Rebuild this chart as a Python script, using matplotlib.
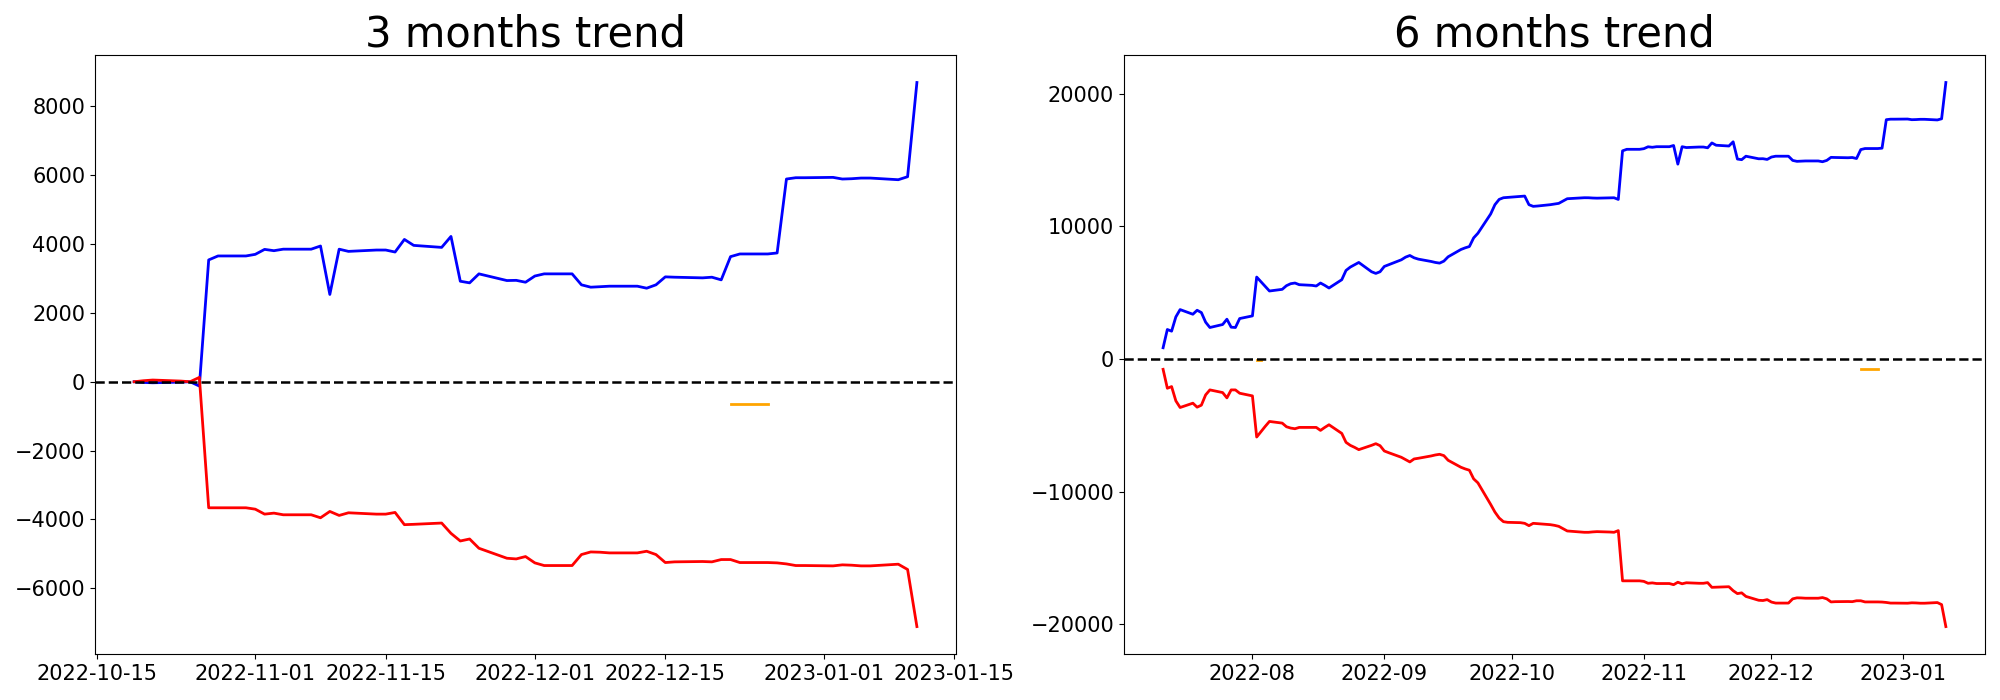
import numpy as np
import pandas as pd
import matplotlib
matplotlib.use("Agg")
import matplotlib.pyplot as plt

# business days shown in each panel
dates_3m = pd.bdate_range("2022-10-19", "2023-01-11")
dates_6m = pd.bdate_range("2022-07-11", "2023-01-11")

blue_3m = [0, -20, -30, -10, 0, -125, 3538, 3653, 3653,
           3700, 3844, 3806, 3850, 3850, 3942, 2535, 3850, 3786, 3825, 3825,
           3767, 4133, 3960, 3902, 4220, 2919, 2872, 3133, 2939, 2945, 2890,
           3070, 3133, 3133, 2815, 2746, 2760, 2775, 2775, 2717, 2815, 3046,
           3036, 3017, 3036, 2959, 3633, 3711, 3711, 3740, 5887, 5925, 5925,
           5935, 5887, 5896, 5915, 5915, 5867, 5954, 8690]
red_3m = [0, 30, 50, 20, 0, 127, -3660, -3660, -3660,
          -3700, -3844, -3815, -3863, -3863, -3950, -3766, -3882, -3805, -3844, -3844,
          -3795, -4150, -4140, -4103, -4402, -4624, -4566, -4835, -5125, -5145, -5076,
          -5260, -5337, -5337, -5018, -4942, -4950, -4970, -4970, -4922, -5018, -5250,
          -5230, -5220, -5230, -5163, -5163, -5250, -5250, -5260, -5290, -5337, -5337,
          -5347, -5317, -5327, -5347, -5347, -5298, -5452, -7110]
orange_3m_dates = ["2022-12-22", "2022-12-23", "2022-12-26"]
orange_3m = [-650, -650, -650]

blue_6m = [851, 2227, 2102, 3178, 3729, 3378, 3679, 3504, 2778, 2377, 2603, 3003, 2402, 2377, 3053,
           3253, 6181, 5831, 5480, 5130, 5255, 5531, 5681, 5731, 5606, 5556, 5506, 5731, 5556, 5355,
           5981, 6682, 6932, 7107, 7282, 6582, 6456, 6582,
           6982, 7107, 7482, 7683, 7808, 7633, 7533, 7357, 7282, 7232, 7382, 7708, 8258, 8383, 8483,
           9134, 9484, 10936, 11637, 12037, 12162, 12187,
           12262, 12287, 11637, 11512, 11537, 11637, 11687, 11737, 11912, 12087, 12137, 12162,
           12160, 12140, 12130, 12150, 12160, 12035, 15698, 15813, 15813,
           15860, 16004, 15966, 16010, 16010, 16102, 14695, 16010, 15946, 15985, 15985, 15927,
           16293, 16120, 16062, 16380, 15079, 15032, 15293, 15099, 15105, 15050,
           15230, 15293, 15293, 14975, 14906, 14920, 14935, 14935, 14877, 14975, 15206, 15196,
           15177, 15196, 15119, 15793, 15871, 15871, 15900, 18047, 18085, 18085,
           18095, 18047, 18056, 18075, 18075, 18027, 18114, 20850]
red_6m = [-776, -2202, -2077, -3153, -3654, -3328, -3629, -3478, -2703, -2327, -2528, -2928, -2327, -2327, -2578,
          -2778, -5881, -5480, -5080, -4705, -4830, -5105, -5205, -5255, -5155, -5155, -5155, -5380, -5155, -4955,
          -5606, -6281, -6507, -6657, -6832, -6507, -6381, -6532,
          -6932, -7057, -7407, -7583, -7758, -7533, -7482, -7307, -7232, -7182, -7282, -7633, -8158, -8283, -8383,
          -9034, -9334, -10961, -11537, -11987, -12262, -12312,
          -12337, -12387, -12563, -12387, -12412, -12487, -12538, -12613, -12788, -12963, -13038, -13063,
          -13063, -13033, -13013, -13043, -13063, -12936, -16723, -16723, -16723,
          -16763, -16907, -16878, -16926, -16926, -17013, -16829, -16945, -16868, -16907, -16907,
          -16858, -17213, -17203, -17166, -17465, -17687, -17629, -17898, -18188, -18208, -18139,
          -18323, -18400, -18400, -18081, -18005, -18013, -18033, -18033, -17985, -18081, -18313,
          -18293, -18283, -18293, -18226, -18226, -18313, -18313, -18323, -18353, -18400, -18400,
          -18410, -18380, -18390, -18410, -18410, -18361, -18515, -20173]
orange_6m_a_dates = ["2022-08-02", "2022-08-03"]
orange_6m_a = [-50, -50]
orange_6m_b_dates = ["2022-12-22", "2022-12-23", "2022-12-26"]
orange_6m_b = [-750, -750, -750]

fig, (ax1, ax2) = plt.subplots(1, 2, figsize=(20, 7), dpi=100)
plt.subplots_adjust(left=0.0475, right=0.9925, top=0.921, bottom=0.066, wspace=0.195)

# 3 months
ax1.plot(dates_3m, blue_3m, color="blue", lw=2)
ax1.plot(dates_3m, red_3m, color="red", lw=2)
ax1.plot(pd.to_datetime(orange_3m_dates), orange_3m, color="orange", lw=2)
ax1.axhline(0, color="black", linestyle="--", lw=1.8)
ax1.set_title("3 months trend", fontsize=30)

# 6 months
ax2.plot(dates_6m, blue_6m, color="blue", lw=2)
ax2.plot(dates_6m, red_6m, color="red", lw=2)
ax2.plot(pd.to_datetime(orange_6m_a_dates), orange_6m_a, color="orange", lw=2)
ax2.plot(pd.to_datetime(orange_6m_b_dates), orange_6m_b, color="orange", lw=2)
ax2.axhline(0, color="black", linestyle="--", lw=1.8)
ax2.set_title("6 months trend", fontsize=30)

for ax in (ax1, ax2):
    ax.tick_params(labelsize=15)

fig.savefig("out.png")
